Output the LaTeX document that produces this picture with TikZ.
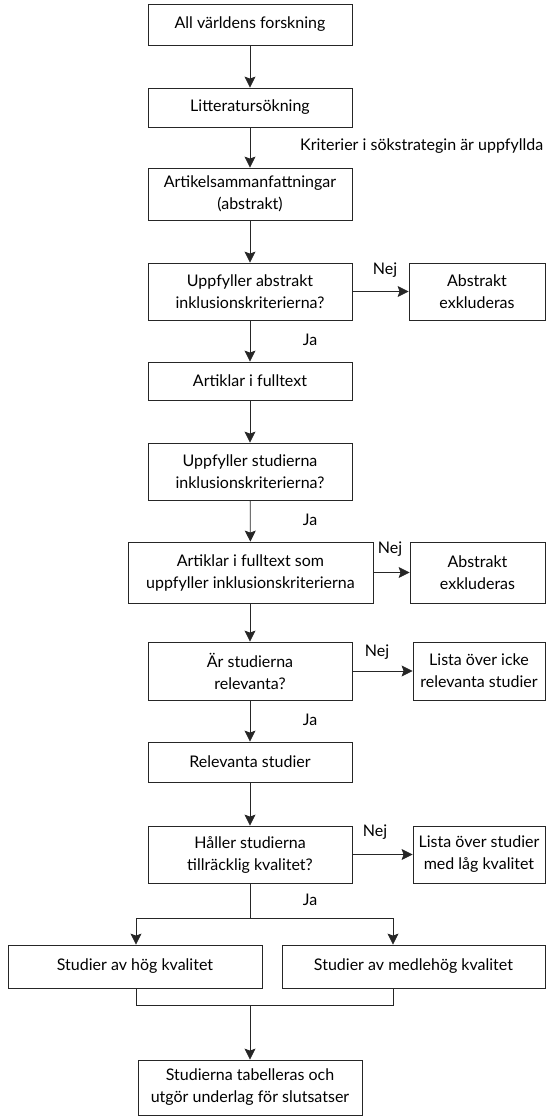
\documentclass[tikz,border=0pt]{standalone}
\usepackage{fontspec}
\setmainfont{Lato}
\usetikzlibrary{arrows.meta}
\begin{document}
\begin{tikzpicture}[x=1pt,y=-1pt,
  box/.style={draw=black!85,line width=0.8pt,rectangle,align=center,inner sep=0pt,font=\fontsize{16}{22}\selectfont},
  lbl/.style={inner sep=0pt,font=\fontsize{16}{20}\selectfont},
  arr/.style={draw=black!85,line width=0.8pt,-{Stealth[length=11pt,width=11pt,inset=2pt]}},
  ln/.style={draw=black!85,line width=0.8pt}]
\useasboundingbox (0,0) rectangle (549,1119);
\node[box,minimum width=204pt,minimum height=41pt] (n1) at (250,24.5) {All världens forskning};
\node[box,minimum width=204pt,minimum height=39pt] (n2) at (250,107.5) {Litteratursökning};
\node[box,minimum width=204pt,minimum height=52pt] (n3) at (250,194) {Artikelsammanfattningar\\(abstrakt)};
\node[box,minimum width=204pt,minimum height=57pt] (n4) at (250,291.5) {Uppfyller abstrakt\\inklusionskriterierna?};
\node[box,minimum width=136pt,minimum height=57pt] (x1) at (477,291.5) {Abstrakt\\exkluderas};
\node[box,minimum width=204pt,minimum height=38pt] (n5) at (250,381) {Artiklar i fulltext};
\node[box,minimum width=204pt,minimum height=57pt] (n6) at (250,471.5) {Uppfyller studierna\\inklusionskriterierna?};
\node[box,minimum width=245pt,minimum height=61pt] (n7) at (250.5,572.5) {Artiklar i fulltext som\\uppfyller inklusionskriterierna};
\node[box,minimum width=135pt,minimum height=61pt] (x2) at (477.5,572.5) {Abstrakt\\exkluderas};
\node[box,minimum width=204pt,minimum height=58pt] (n8) at (250,671) {Är studierna\\relevanta?};
\node[box,minimum width=132pt,minimum height=58pt] (x3) at (479,671) {Lista över icke\\relevanta studier};
\node[box,minimum width=204pt,minimum height=40pt] (n9) at (250,762) {Relevanta studier};
\node[box,minimum width=204pt,minimum height=57pt] (n10) at (250,854.5) {Håller studierna\\tillräcklig kvalitet?};
\node[box,minimum width=132pt,minimum height=57pt] (x4) at (479,854.5) {Lista över studier\\med låg kvalitet};
\node[box,minimum width=254pt,minimum height=43pt] (s1) at (135,966.5) {Studier av hög kvalitet};
\node[box,minimum width=263pt,minimum height=43pt] (s2) at (413.5,966.5) {Studier av medlehög kvalitet};
\node[box,minimum width=224pt,minimum height=55pt] (f) at (250,1087.5) {Studierna tabelleras och\\utgör underlag för slutsatser};
% labels
\node[lbl,anchor=west] (k) at (300,146) {Kriterier i sökstrategin är uppfyllda};
\node[lbl] (nej1) at (385,270) {Nej};
\node[lbl] (ja1) at (310,340) {Ja};
\node[lbl] (ja2) at (310,520) {Ja};
\node[lbl] (nej2) at (390,549) {Nej};
\node[lbl] (nej3) at (377,652) {Nej};
\node[lbl] (ja3) at (310,720) {Ja};
\node[lbl] (nej4) at (375,832) {Nej};
\node[lbl] (ja4) at (310,900) {Ja};
% arrows
\draw[arr] (n1) -- (n2);
\draw[arr] (n2) -- (n3);
\draw[arr] (n3) -- (n4);
\draw[arr] (n4) -- (x1);
\draw[arr] (n4) -- (n5);
\draw[arr] (n5) -- (n6);
\draw[arr] (n6) -- (n7);
\draw[arr] (n7.east) -- (x2.west);
\draw[arr] (n7.south -| n8) -- (n8);
\draw[arr] (n8) -- (x3);
\draw[arr] (n8) -- (n9);
\draw[arr] (n9) -- (n10);
\draw[arr] (n10) -- (x4);
\coordinate (sp) at (250,918);
\coordinate (sl) at (136,918);
\coordinate (sr) at (393,918);
\draw[ln] (n10.south) -- (sp);
\draw[arr] (sp) -- (sl) -- (sl |- s1.north);
\draw[arr] (sp) -- (sr) -- (sr |- s2.north);
\coordinate (jn) at (250,1005);
\coordinate (bl) at (136,1005);
\coordinate (br) at (393,1005);
\draw[ln] (bl |- s1.south) -- (bl) -- (br) -- (br |- s2.south);
\draw[arr] (jn) -- (f);
\end{tikzpicture}
\end{document}
